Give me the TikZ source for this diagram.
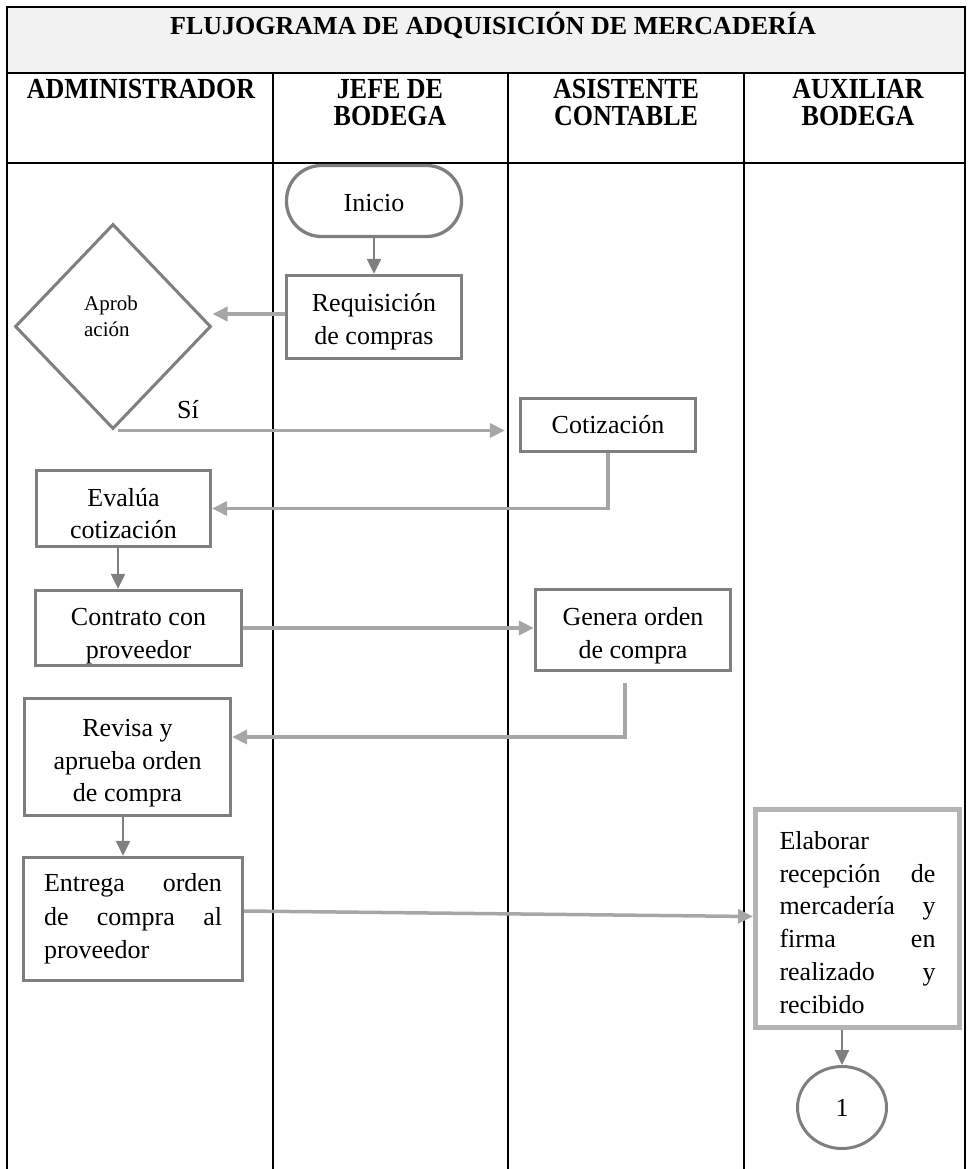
\documentclass[tikz,border=0pt]{standalone}
\usepackage{fontspec}
\setmainfont{Liberation Serif}
\usetikzlibrary{shapes.geometric,arrows.meta,calc}
\definecolor{boxgray}{HTML}{7F7F7F}
\definecolor{lightconn}{HTML}{A6A6A6}
\definecolor{elabgray}{HTML}{B4B4B4}
\definecolor{titlefill}{HTML}{F2F2F2}
\newcommand\bodyf{\fontsize{26}{32.5}\selectfont}
\newcommand\headf{\fontsize{26}{27}\selectfont\bfseries}
\newcommand\smallf{\fontsize{21}{26}\selectfont}
\newcommand\tstrut[1]{\rule{0pt}{#1pt}}
\newcommand\hs[1]{\scalebox{1}[1.12]{#1}}
\begin{document}
\begin{tikzpicture}[x=1pt,y=-1pt,
  tline/.style={black, line width=2pt},
  box/.style={draw=boxgray, line width=3.3pt, inner sep=0pt, align=center, font=\bodyf},
  conn/.style={draw=lightconn, line width=3.5pt, -{Triangle[length=15pt,width=14pt]}},
  connd/.style={draw=boxgray, line width=2.2pt, -{Triangle[length=15pt,width=14pt]}},
  head/.style={align=center, font=\headf, inner sep=0pt}]
\useasboundingbox (0,0) rectangle (967,1169);
% table
\fill[titlefill] (7,7) rectangle (965,73);
\draw[tline] (6,7) -- (966,7);
\draw[tline] (7,7) -- (7,1175);
\draw[tline] (965,7) -- (965,1175);
\draw[tline] (6,73) -- (966,73);
\draw[tline] (6,163) -- (966,163);
\draw[tline] (273,73) -- (273,1175);
\draw[tline] (508,73) -- (508,1175);
\draw[tline] (744,73) -- (744,1175);
% headings
\node[head] (title) at (493,25) {FLUJOGRAMA DE ADQUISICIÓN DE MERCADERÍA};
\node[head] (hadm) at (141,89) {\hs{ADMINISTRADOR}};
\node[head] (hjefe) at (390,103) {\hs{JEFE DE}\\\hs{BODEGA}};
\node[head] (hasis) at (626,103) {\hs{ASISTENTE}\\\hs{CONTABLE}};
\node[head] (haux) at (858,103) {\hs{AUXILIAR}\\\hs{BODEGA}};
% nodes
\node[box, rounded corners=35pt, minimum width=175pt, minimum height=71pt] (ini) at (374,201) {\tstrut{21}Inicio};
\node[box, minimum width=175pt, minimum height=83pt] (req) at (374,317) {\tstrut{28}Requisición\\de compras};
\node[diamond, draw=boxgray, line width=3pt, minimum width=196pt, minimum height=205pt, inner sep=0pt] (dia) at (113,326.5) {};
\node[font=\smallf, align=left, inner sep=0pt] (diat) at (111,316) {Aprob\\ación};
\node[font=\bodyf, inner sep=0pt] (si) at (188,410) {Sí};
\node[box, minimum width=175pt, minimum height=53pt] (cot) at (608,425) {Cotización};
\node[box, minimum width=174pt, minimum height=76pt] (eva) at (123.5,508.5) {\tstrut{28}Evalúa\\cotización};
\node[box, minimum width=206pt, minimum height=75pt] (con) at (138.5,628) {\tstrut{34}Contrato con\\proveedor};
\node[box, minimum width=195pt, minimum height=81pt] (gen) at (633,630) {\tstrut{30}Genera orden\\de compra};
\node[box, minimum width=206pt, minimum height=117pt] (rev) at (127.5,757) {\tstrut{30}Revisa y\\aprueba orden\\de compra};
\node[box, minimum width=219pt, minimum height=123pt, text width=178pt, align=left, font=\fontsize{26}{33.5}\selectfont] (ent) at (133,919) {Entrega\hfill orden\\de\hfill compra\hfill al\\proveedor};
\node[box, draw=elabgray, line width=5pt, minimum width=204pt, minimum height=218pt, text width=156pt, align=left, font=\fontsize{26}{32.8}\selectfont] (ela) at (857.5,918.5) {\tstrut{26}Elaborar\\recepción\hfill de\\mercadería\hfill y\\firma\hfill en\\realizado\hfill y\\recibido};
\node[ellipse, draw=boxgray, line width=3pt, minimum width=89pt, minimum height=82pt, inner sep=0pt, font=\bodyf] (one) at (842,1107.5) {1};
% connectors
\draw[connd] (ini.south) -- (req.north);
\coordinate (a1) at ($(req.west)+(0,-3)$);
\draw[conn] (a1) -- (a1 -| dia.east);
\coordinate (a2) at ($(dia.south)+(5,0)$);
\draw[conn, shorten >=14pt] (a2) -- (a2 -| cot.west);
\draw[conn] (cot.south) |- (eva.east);
\coordinate (cx1) at (118,0);
\draw[connd] (eva.south -| cx1) -- (con.north -| cx1);
\draw[conn] (con.east) -- (con.east -| gen.west);
\coordinate (g1) at ($(gen.south)+(-8,11)$);
\coordinate (r1) at ($(rev.east)+(0,-20)$);
\draw[conn] (g1) |- (r1);
\coordinate (cx2) at (123,0);
\draw[connd] (rev.south -| cx2) -- (ent.north -| cx2);
\coordinate (e1) at ($(ent.east)+(0,-8)$);
\coordinate (e2) at ($(ela.west)+(0,-2)$);
\draw[conn] (e1) -- (e2);
\draw[connd] (ela.south -| one.north) -- (one.north);
\end{tikzpicture}
\end{document}
